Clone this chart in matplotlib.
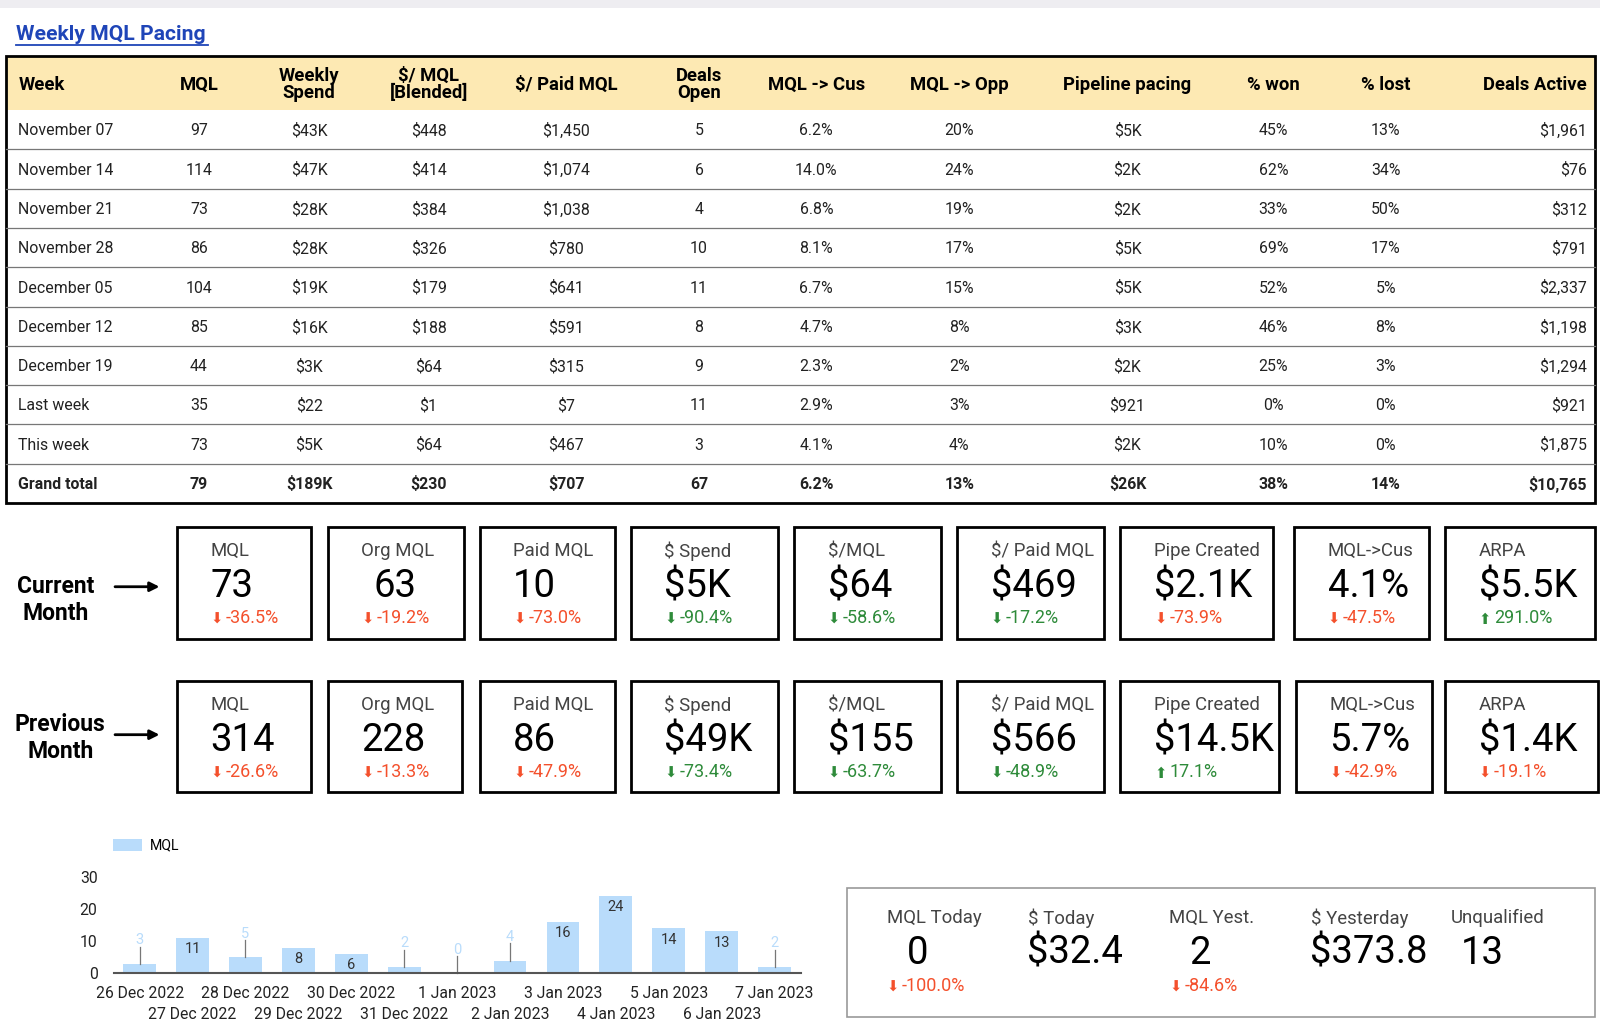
import matplotlib
matplotlib.use("Agg")
import matplotlib.pyplot as plt
import matplotlib.patches as patches

plt.rcParams['font.family'] = ['Roboto', 'DejaVu Sans']

# ---- table data ----
headers = ["Week", "MQL", "Weekly\nSpend", "$/ MQL\n[Blended]", "$/ Paid MQL", "Deals\nOpen",
           "MQL -> Cus", "MQL -> Opp", "Pipeline pacing", "% won", "% lost", "Deals Active"]
weeks = ["November 07", "November 14", "November 21", "November 28", "December 05",
         "December 12", "December 19", "Last week", "This week", "Grand total"]
mql = ["97", "114", "73", "86", "104", "85", "44", "35", "73", "79"]
weekly_spend = ["$43K", "$47K", "$28K", "$28K", "$19K", "$16K", "$3K", "$22", "$5K", "$189K"]
cost_mql = ["$448", "$414", "$384", "$326", "$179", "$188", "$64", "$1", "$64", "$230"]
cost_paid_mql = ["$1,450", "$1,074", "$1,038", "$780", "$641", "$591", "$315", "$7", "$467", "$707"]
deals_open = ["5", "6", "4", "10", "11", "8", "9", "11", "3", "67"]
mql_cus = ["6.2%", "14.0%", "6.8%", "8.1%", "6.7%", "4.7%", "2.3%", "2.9%", "4.1%", "6.2%"]
mql_opp = ["20%", "24%", "19%", "17%", "15%", "8%", "2%", "3%", "4%", "13%"]
pipeline = ["$5K", "$2K", "$2K", "$5K", "$5K", "$3K", "$2K", "$921", "$2K", "$26K"]
pct_won = ["45%", "62%", "33%", "69%", "52%", "46%", "25%", "0%", "10%", "38%"]
pct_lost = ["13%", "34%", "50%", "17%", "5%", "8%", "3%", "0%", "0%", "14%"]
deals_active = ["$1,961", "$76", "$312", "$791", "$2,337", "$1,198", "$1,294", "$921", "$1,875", "$10,765"]

# ---- scorecards ----
card_labels = ["MQL", "Org MQL", "Paid MQL", "$ Spend", "$/MQL", "$/ Paid MQL", "Pipe Created", "MQL->Cus", "ARPA"]
current_vals = ["73", "63", "10", "$5K", "$64", "$469", "$2.1K", "4.1%", "$5.5K"]
current_delta = [-36.5, -19.2, -73.0, -90.4, -58.6, -17.2, -73.9, -47.5, 291.0]
current_good = [False, False, False, True, True, True, False, False, True]
previous_vals = ["314", "228", "86", "$49K", "$155", "$566", "$14.5K", "5.7%", "$1.4K"]
previous_delta = [-26.6, -13.3, -47.9, -73.4, -63.7, -48.9, 17.1, -42.9, -19.1]
previous_good = [False, False, False, True, True, True, True, False, False]

# ---- daily MQL ----
days = ["26 Dec 2022", "27 Dec 2022", "28 Dec 2022", "29 Dec 2022", "30 Dec 2022", "31 Dec 2022",
        "1 Jan 2023", "2 Jan 2023", "3 Jan 2023", "4 Jan 2023", "5 Jan 2023", "6 Jan 2023", "7 Jan 2023"]
daily_mql = [3, 11, 5, 8, 6, 2, 0, 4, 16, 24, 14, 13, 2]

# ---- today box ----
today_labels = ["MQL Today", "$ Today", "MQL Yest.", "$ Yesterday", "Unqualified"]
today_vals = ["0", "$32.4", "2", "$373.8", "13"]
today_delta = [-100.0, None, -84.6, None, None]

RED = "#f4502c"
GREEN = "#2e8b3a"
ARROW_FONT = ["DejaVu Sans"]

# layout grid (screen units of the source dashboard)
W, H = 1568, 1004.5

fig = plt.figure(figsize=(16, 10.25), dpi=100)
bg = fig.add_axes([0, 0, 1, 1])
bg.set_xlim(0, W)
bg.set_ylim(H, 0)
bg.axis("off")

# top strip
bg.add_patch(patches.Rectangle((0, 0), W, 8, color="#eeedf1", lw=0))

bg.text(16, 34, "Weekly MQL Pacing", fontsize=15.2, fontweight="bold", color="#1f45b8",
        va="center", ha="left")
bg.plot([16, 204], [44.5, 44.5], color="#1f45b8", lw=1.3)

# table
tx0, tx1, ty0, hdr_h, row_h = 6, 1563, 55, 53, 38.5
bg.add_patch(patches.Rectangle((tx0, ty0), tx1 - tx0, hdr_h, color="#fde9b3", lw=0))
col_x = [18, 195, 303, 420, 555, 685, 800, 940, 1105, 1248, 1358, 1555]
col_ha = ["left"] + ["center"] * 10 + ["right"]
for x, ha, h in zip(col_x, col_ha, headers):
    bg.text(x, ty0 + hdr_h / 2 + 1.5, h, fontsize=13.3, fontweight="bold", ha=ha, va="center",
            linespacing=0.92)

columns = [weeks, mql, weekly_spend, cost_mql, cost_paid_mql, deals_open, mql_cus, mql_opp,
           pipeline, pct_won, pct_lost, deals_active]
n_rows = len(weeks)
for r in range(n_rows):
    yc = ty0 + hdr_h + row_h * (r + 0.5) + 1
    bold = r == n_rows - 1
    for x, ha, col in zip(col_x, col_ha, columns):
        bg.text(x, yc, col[r], fontsize=11.4, ha=ha, va="center", color="#222222",
                fontweight="bold" if bold else "normal")
    if r < n_rows - 1:
        ys = ty0 + hdr_h + row_h * (r + 1)
        bg.plot([tx0, tx1], [ys, ys], color="#777777", lw=0.9)
table_bottom = ty0 + hdr_h + row_h * n_rows
bg.add_patch(patches.Rectangle((tx0, ty0), tx1 - tx0, table_bottom - ty0, fill=False,
                               ec="black", lw=2))

# scorecard rows
cur_boxes = [(173, 305), (321, 455), (470, 603), (618, 762), (778, 922), (938, 1082),
             (1098, 1248), (1268, 1400), (1416, 1563)]
prev_boxes = [(173, 305), (321, 453), (470, 603), (618, 762), (778, 922), (938, 1082),
              (1098, 1253), (1270, 1403), (1416, 1566)]


def draw_delta(x, y, d, c):
    arrow = "\u2b07" if d < 0 else "\u2b06"
    bg.text(x, y + 1, arrow, fontsize=10.5, color=c, ha="left", va="center", family=ARROW_FONT)
    bg.text(x + 15, y, "%.1f%%" % d, fontsize=13, color=c, ha="left", va="center")


def draw_cards(boxes, top, bottom, vals, deltas, good, value_shift):
    for i, (x0, x1) in enumerate(boxes):
        bg.add_patch(patches.Rectangle((x0, top), x1 - x0, bottom - top, fill=False,
                                       ec="black", lw=2))
        lx = x0 + 33
        bg.text(lx, top + 24, card_labels[i], fontsize=13.4, color="#444444", ha="left", va="center")
        bg.text(lx + value_shift.get(i, 0), top + 59, vals[i], fontsize=27.5, color="black",
                ha="left", va="center")
        draw_delta(lx, top + 90, deltas[i], GREEN if good[i] else RED)


draw_cards(cur_boxes, 516, 626, current_vals, current_delta, current_good, {1: 12})
draw_cards(prev_boxes, 667, 776, previous_vals, previous_delta, previous_good, {})

bg.text(55, 588, "Current\nMonth", fontsize=16.5, fontweight="bold", ha="center", va="center",
        linespacing=1.25)
bg.text(59, 723, "Previous\nMonth", fontsize=16.5, fontweight="bold", ha="center", va="center",
        linespacing=1.25)
for ya in (575, 720):
    bg.annotate("", xy=(159, ya), xytext=(110, ya),
                arrowprops=dict(arrowstyle="-|>", color="black", lw=2, mutation_scale=14))

# today box
bg.add_patch(patches.Rectangle((830, 870), 733, 127, fill=False, ec="#999999", lw=1.2))
today_x = [869, 1007, 1146, 1285, 1422]
today_vx = [899, 1053, 1176, 1341, 1453]
for i in range(len(today_labels)):
    bg.text(today_x[i], 900, today_labels[i], fontsize=13.4, color="#444444", ha="left", va="center")
    bg.text(today_vx[i], 934, today_vals[i], fontsize=27.5, color="black", ha="center", va="center")
    if today_delta[i] is not None:
        draw_delta(today_x[i], 966, today_delta[i], RED)

# bar chart
ax = fig.add_axes([112 / W, (H - 954) / H, 673 / W, 95 / H])
ax.patch.set_alpha(0)
x = list(range(len(days)))
ax.bar(x, daily_mql, width=0.62, color="#b9dcfb", label="MQL")
ax.set_xlim(-0.48, 12.5)
ax.set_ylim(0, 30)
ax.set_yticks([0, 10, 20, 30])
ax.set_xticks(x[0::2], days[0::2])
ax.set_xticks(x[1::2], days[1::2], minor=True)
ax.tick_params(axis="both", which="both", length=0, labelsize=11.3, colors="#222222")
ax.tick_params(axis="y", pad=12)
ax.tick_params(axis="x", which="major", pad=9)
ax.tick_params(axis="x", which="minor", pad=24)
for s in ["top", "right", "left"]:
    ax.spines[s].set_visible(False)
ax.spines["bottom"].set_color("#555555")
ax.spines["bottom"].set_linewidth(1.5)

for xi, v in zip(x, daily_mql):
    if v <= 5:
        ax.plot([xi, xi], [v, v + 5.3], color="#777777", lw=0.9, clip_on=False)
        ax.text(xi, v + 7.3, str(v), fontsize=10.5, color="#b9dcfb", ha="center", va="center",
                clip_on=False)
    else:
        ax.text(xi, v - 3.5, str(v), fontsize=10.5, color="#333333", ha="center", va="center")

ax.legend(loc="upper left", bbox_to_anchor=(111 / W, 1 - 822 / H),
          bbox_transform=fig.transFigure, frameon=False, fontsize=10.2, handlelength=2.0,
          handleheight=0.9, borderpad=0, borderaxespad=0, handletextpad=0.6)

fig.savefig("out.png", dpi=100)
